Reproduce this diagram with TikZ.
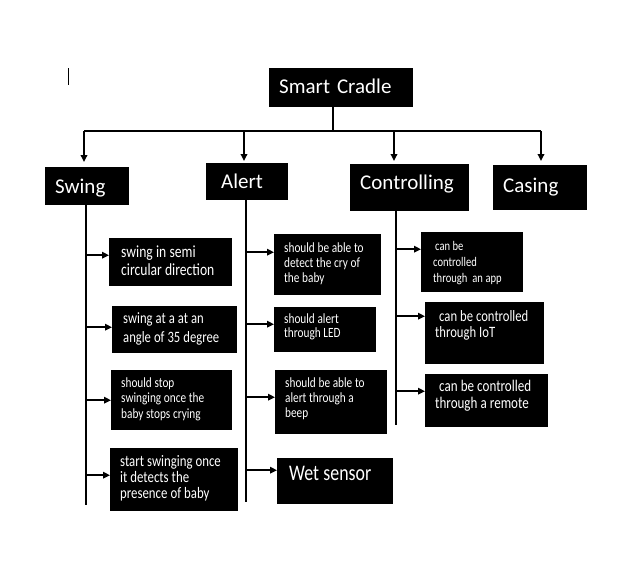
\documentclass[tikz,border=0pt]{standalone}
\usepackage{fontspec}
\setmainfont{Carlito}
\newfontfamily\nar{Carlito}[FakeStretch=0.8]
\newcommand\mytightsp{\spaceskip=0.19em\relax}
\usetikzlibrary{arrows.meta}
\tikzset{
  bx/.style={fill=black, draw=none, inner sep=0pt, anchor=north west, rectangle},
  tx/.style={text=white, anchor=base west, inner sep=0pt, text width=160pt, align=left},
  ln/.style={line width=1.7pt, black},
  arr/.style={ln, -{Triangle[length=7pt,width=6.5pt]}},
  big/.style={font=\fontsize{21}{25}\selectfont},
  fs/.style n args={2}{font=\nar\fontsize{#1}{#2}\selectfont, execute at begin node=\mytightsp}
}
\newcommand\mybox[5]{\node[bx, minimum width=#4pt, minimum height=#5pt] (#1) at (#2,#3) {};}
\newcommand\branch[3]{\path ([yshift=#3pt]#2.west) coordinate (#2in); \draw[arr] (#2in -| #1) -- (#2in);}
\begin{document}
\begin{tikzpicture}[x=1pt,y=-1pt]
\useasboundingbox (0,0) rectangle (630,574);
\fill[white] (0,0) rectangle (630,574);
\draw[line width=1pt] (68,68) -- (68,85);
% top level boxes
\mybox{root}{269}{68}{144}{39}
\mybox{swing}{45}{167}{84}{38}
\mybox{alert}{206}{163}{82}{37}
\mybox{ctrl}{350}{164}{119}{47}
\mybox{casing}{493}{165}{94}{45}
\node[tx,big] (tRoot) at (279,93) {Smart Cradle};
\node[tx,big] (tSwing) at (55,193) {Swing};
\node[tx,big] (tAlert) at (221,188) {Alert};
\node[tx,big] (tCtrl) at (360,189) {Controlling};
\node[tx,big] (tCasing) at (503,192) {Casing};
% swing children
\mybox{s1}{109}{238}{123}{48}
\mybox{s2}{112}{306}{125}{47}
\mybox{s3}{111}{370}{121}{60}
\mybox{s4}{110}{448}{128}{63}
\node[tx,fs={17}{18.5}] (ts1) at (121,257) {swing in semi\\circular direction};
\node[tx,fs={15.8}{19}] (ts2) at (123,323) {swing at a at an\\angle of 35 degree};
\node[tx,fs={14.1}{15.5}] (ts3) at (121,387) {should stop\\swinging once the\\baby stops crying};
\node[tx,fs={16}{16}] (ts4) at (120,466) {start swinging once\\it detects the\\presence of baby};
% alert children
\mybox{a1}{274}{234}{107}{61}
\mybox{a2}{274}{307}{102}{45}
\mybox{a3}{275}{370}{112}{64}
\mybox{a4}{277}{458}{116}{46}
\node[tx,fs={14.1}{15}] (ta1) at (284,252) {should be able to\\detect the cry of\\the baby};
\node[tx,fs={14.1}{14.5}] (ta2) at (284,323) {should alert\\through LED};
\node[tx,fs={14.1}{15}] (ta3) at (285,387) {should be able to\\alert through a\\beep};
\node[tx,fs={22.3}{22}] (ta4) at (289,480) {Wet sensor};
% controlling children
\mybox{c1}{421}{232}{102}{60}
\mybox{c2}{425}{302}{119}{62}
\mybox{c3}{425}{374}{123}{53}
\node[tx,fs={13.2}{16}] (tc1) at (433,250) {\hspace{2pt}can be\\controlled\\through\ \ an app};
\node[tx,fs={15.8}{16.5}] (tc2) at (435,321) {\hspace{4pt}can be controlled\\through IoT};
\node[tx,fs={16.3}{17}] (tc3) at (435,391) {\hspace{4pt}can be controlled\\through a remote};
% top connectors
\coordinate (rootFoot) at (333,131);
\coordinate (busL) at (84,131);
\coordinate (busA) at (244,131);
\coordinate (busC) at (394,131);
\coordinate (busR) at (541,131);
\draw[ln] (root.south -| rootFoot) -- (rootFoot);
\draw[ln] (busL) -- (busR);
\draw[arr, shorten >=5pt] (busL) -- (busL |- swing.north);
\draw[arr, shorten >=2pt] (busA) -- (busA |- alert.north);
\draw[arr, shorten >=3pt] (busC) -- (busC |- ctrl.north);
\draw[arr, shorten >=4pt] (busR) -- (busR |- casing.north);
% trunks
\coordinate (tS) at (86,505);
\coordinate (tA) at (246,502);
\coordinate (tC) at (396,425);
\draw[ln] (tS |- swing.south) -- (tS);
\draw[ln] (tA |- alert.south) -- (tA);
\draw[ln] (tC |- ctrl.south) -- (tC);
\branch{tS}{s1}{7}
\branch{tS}{s2}{2.5}
\branch{tS}{s3}{0}
\branch{tS}{s4}{4.5}
\branch{tA}{a1}{12.5}
\branch{tA}{a2}{5.5}
\branch{tA}{a3}{5}
\branch{tA}{a4}{11}
\branch{tC}{c1}{13}
\branch{tC}{c2}{17}
\branch{tC}{c3}{9.5}
\end{tikzpicture}
\end{document}
